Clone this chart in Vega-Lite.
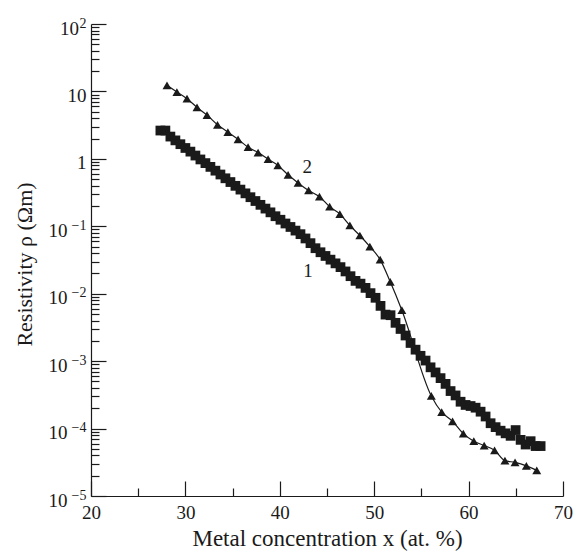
{
  "$schema": "https://vega.github.io/schema/vega-lite/v6.json",
  "width": 472,
  "height": 472,
  "autosize": {"type": "none"},
  "padding": {"left": 91, "top": 24, "right": 13, "bottom": 58},
  "background": "white",
  "config": {
    "view": {"stroke": null},
    "font": "Liberation Serif",
    "axis": {"labelFont": "Liberation Serif", "titleFont": "Liberation Serif", "labelColor": "#1a1a1a", "titleColor": "#1a1a1a", "domainColor": "#1a1a1a", "tickColor": "#1a1a1a", "grid": false, "titleFontWeight": "normal"}
  },
  "datasets": {
    "sq": [
      {"x": 27.35, "rho": 2.63}, {"x": 27.88, "rho": 2.63}, {"x": 28.41, "rho": 2.14}, {"x": 28.94, "rho": 1.88},
      {"x": 29.47, "rho": 1.65}, {"x": 30.0, "rho": 1.45}, {"x": 30.53, "rho": 1.28}, {"x": 31.06, "rho": 1.12},
      {"x": 31.59, "rho": 0.98}, {"x": 32.12, "rho": 0.865}, {"x": 32.65, "rho": 0.76}, {"x": 33.18, "rho": 0.668},
      {"x": 33.71, "rho": 0.586}, {"x": 34.24, "rho": 0.515}, {"x": 34.77, "rho": 0.453}, {"x": 35.3, "rho": 0.398},
      {"x": 35.83, "rho": 0.35}, {"x": 36.36, "rho": 0.308}, {"x": 36.89, "rho": 0.27}, {"x": 37.42, "rho": 0.237},
      {"x": 37.95, "rho": 0.208}, {"x": 38.48, "rho": 0.183}, {"x": 39.01, "rho": 0.161}, {"x": 39.54, "rho": 0.141},
      {"x": 40.07, "rho": 0.125}, {"x": 40.6, "rho": 0.11}, {"x": 41.13, "rho": 0.0977}, {"x": 41.66, "rho": 0.0863},
      {"x": 42.19, "rho": 0.0764}, {"x": 42.72, "rho": 0.066}, {"x": 43.25, "rho": 0.0562}, {"x": 43.78, "rho": 0.0473},
      {"x": 44.31, "rho": 0.0412}, {"x": 44.84, "rho": 0.0363}, {"x": 45.37, "rho": 0.032}, {"x": 45.9, "rho": 0.0282},
      {"x": 46.43, "rho": 0.0248}, {"x": 46.96, "rho": 0.0214}, {"x": 47.49, "rho": 0.0182}, {"x": 48.02, "rho": 0.0155},
      {"x": 48.55, "rho": 0.0141}, {"x": 49.08, "rho": 0.0122}, {"x": 49.61, "rho": 0.0102}, {"x": 50.14, "rho": 0.0087},
      {"x": 50.67, "rho": 0.0066}, {"x": 51.2, "rho": 0.0049}, {"x": 51.73, "rho": 0.0048}, {"x": 52.26, "rho": 0.0037},
      {"x": 52.79, "rho": 0.003}, {"x": 53.32, "rho": 0.0024}, {"x": 53.85, "rho": 0.00186}, {"x": 54.38, "rho": 0.00148},
      {"x": 54.91, "rho": 0.0012}, {"x": 55.44, "rho": 0.00102}, {"x": 55.97, "rho": 0.00081}, {"x": 56.5, "rho": 0.00068},
      {"x": 57.03, "rho": 0.00056}, {"x": 57.56, "rho": 0.00046}, {"x": 58.09, "rho": 0.00036}, {"x": 58.62, "rho": 0.00031},
      {"x": 59.15, "rho": 0.00025}, {"x": 59.68, "rho": 0.000224}, {"x": 60.21, "rho": 0.000216}, {"x": 60.74, "rho": 0.000204},
      {"x": 61.27, "rho": 0.000178}, {"x": 61.8, "rho": 0.000151}, {"x": 62.33, "rho": 0.00012}, {"x": 62.86, "rho": 0.000105},
      {"x": 63.39, "rho": 0.000093}, {"x": 63.92, "rho": 0.000085}, {"x": 64.45, "rho": 0.000078}, {"x": 64.98, "rho": 0.000095},
      {"x": 65.51, "rho": 0.000068}, {"x": 66.04, "rho": 0.000058}, {"x": 66.57, "rho": 0.000065}, {"x": 67.1, "rho": 0.000055},
      {"x": 67.63, "rho": 0.000055}
    ],
    "tri": [
      {"x": 28.05, "rho": 12.3}, {"x": 29.1, "rho": 9.8}, {"x": 30.17, "rho": 7.8}, {"x": 31.23, "rho": 5.8},
      {"x": 32.29, "rho": 4.45}, {"x": 33.4, "rho": 3.2}, {"x": 34.5, "rho": 2.5}, {"x": 35.58, "rho": 1.95},
      {"x": 36.64, "rho": 1.49}, {"x": 37.7, "rho": 1.24}, {"x": 38.76, "rho": 0.99}, {"x": 39.8, "rho": 0.8},
      {"x": 40.88, "rho": 0.58}, {"x": 41.94, "rho": 0.44}, {"x": 43.05, "rho": 0.34}, {"x": 44.2, "rho": 0.275},
      {"x": 45.28, "rho": 0.195}, {"x": 46.36, "rho": 0.152}, {"x": 47.42, "rho": 0.103}, {"x": 48.48, "rho": 0.073},
      {"x": 49.54, "rho": 0.05}, {"x": 50.63, "rho": 0.032}, {"x": 51.7, "rho": 0.015}, {"x": 52.93, "rho": 0.0057},
      {"x": 56.05, "rho": 0.000305}, {"x": 57.15, "rho": 0.000175}, {"x": 58.3, "rho": 0.000128}, {"x": 59.44, "rho": 0.000084},
      {"x": 60.55, "rho": 0.000065}, {"x": 61.65, "rho": 0.000056}, {"x": 62.75, "rho": 0.0000475}, {"x": 63.85, "rho": 0.0000335},
      {"x": 64.92, "rho": 0.0000315}, {"x": 66.12, "rho": 0.000028}, {"x": 67.22, "rho": 0.000024}
    ],
    "lab": [
      {"x": 43.0, "rho": 0.0219, "t": "1"},
      {"x": 42.9, "rho": 0.77, "t": "2"}
    ]
  },
  "resolve": {"axis": {"x": "independent", "y": "independent"}},
  "layer": [
    {
      "data": {"name": "sq"},
      "mark": {"type": "square", "size": 95, "filled": true, "opacity": 1, "color": "#1a1a1a"},
      "encoding": {
        "x": {"field": "x", "type": "quantitative",
          "scale": {"domain": [20, 70], "nice": false, "zero": false},
          "axis": {"orient": "bottom", "values": [20, 30, 40, 50, 60, 70], "tickSize": -15, "labelPadding": 22.5, "labelFontSize": 19, "labelFlush": false,
            "title": "Metal concentration x (at. %)", "titleFontSize": 23, "titleX": 236, "titleY": 49, "titleBaseline": "alphabetic", "titleAlign": "center", "domainWidth": 1.2, "tickWidth": 1.2}},
        "y": {"field": "rho", "type": "quantitative",
          "scale": {"type": "log", "domain": [0.00001, 100], "nice": false},
          "axis": {"orient": "left", "values": [0.00001, 0.0001, 0.001, 0.01, 0.1, 1, 10, 100], "tickSize": -15,
            "labelPadding": {"condition": [{"test": "datum.value >= 99", "value": 27.5}, {"test": "datum.value >= 0.9", "value": 20}], "value": 39},
            "labelOffset": 4, "labelFontSize": 19, "labelFlush": false,
            "labelExpr": "datum.value >= 9 && datum.value < 99 ? '10' : datum.value >= 0.9 && datum.value < 9 ? '1' : '10'",
            "title": "Resistivity ρ (Ωm)", "titleFontSize": 22, "titleX": -67, "titleY": 240, "titleAngle": -90, "titleBaseline": "middle", "titleAlign": "center", "domainWidth": 1.2, "tickWidth": 1.2}}
      }
    },
    {
      "data": {"name": "tri"},
      "mark": {"type": "line", "color": "#1a1a1a", "strokeWidth": 1.2, "interpolate": "monotone",
        "point": {"shape": "triangle-up", "size": 80, "filled": true, "opacity": 1, "color": "#1a1a1a"}},
      "encoding": {
        "x": {"field": "x", "type": "quantitative",
          "axis": {"orient": "bottom", "values": [25, 35, 45, 55, 65], "tickSize": -8, "labels": false, "domain": false, "title": null, "tickWidth": 1.2}},
        "y": {"field": "rho", "type": "quantitative",
          "axis": {"orient": "left", "values": [0.00002, 0.00003, 0.00004, 0.00005, 0.00006, 0.00007, 0.00008, 0.00009, 0.0002, 0.0003, 0.0004, 0.0005, 0.0006, 0.0007, 0.0008, 0.0009, 0.002, 0.003, 0.004, 0.005, 0.006, 0.007, 0.008, 0.009, 0.02, 0.03, 0.04, 0.05, 0.06, 0.07, 0.08, 0.09, 0.2, 0.3, 0.4, 0.5, 0.6, 0.7, 0.8, 0.9, 2, 3, 4, 5, 6, 7, 8, 9, 20, 30, 40, 50, 60, 70, 80, 90], "tickSize": -8, "labels": false, "domain": false, "title": null, "tickWidth": 1.2}}
      }
    },
    {
      "data": {"name": "lab"},
      "mark": {"type": "text", "font": "Liberation Serif", "fontSize": 19, "color": "#1a1a1a", "align": "center", "baseline": "middle"},
      "encoding": {
        "x": {"field": "x", "type": "quantitative", "axis": null},
        "y": {"field": "rho", "type": "quantitative",
          "axis": {"orient": "left", "values": [0.00001, 0.0001, 0.001, 0.01, 0.1, 100], "ticks": false, "tickSize": 0, "domain": false, "title": null,
            "labelPadding": 5, "labelOffset": -1, "labelFontSize": 14, "labelFlush": false,
            "labelExpr": "datum.value >= 99 ? '2' : datum.value >= 0.09 ? '−1' : datum.value >= 0.009 ? '−2' : datum.value >= 0.0009 ? '−3' : datum.value >= 0.00009 ? '−4' : '−5'"}},
        "text": {"field": "t"}
      }
    }
  ]
}
